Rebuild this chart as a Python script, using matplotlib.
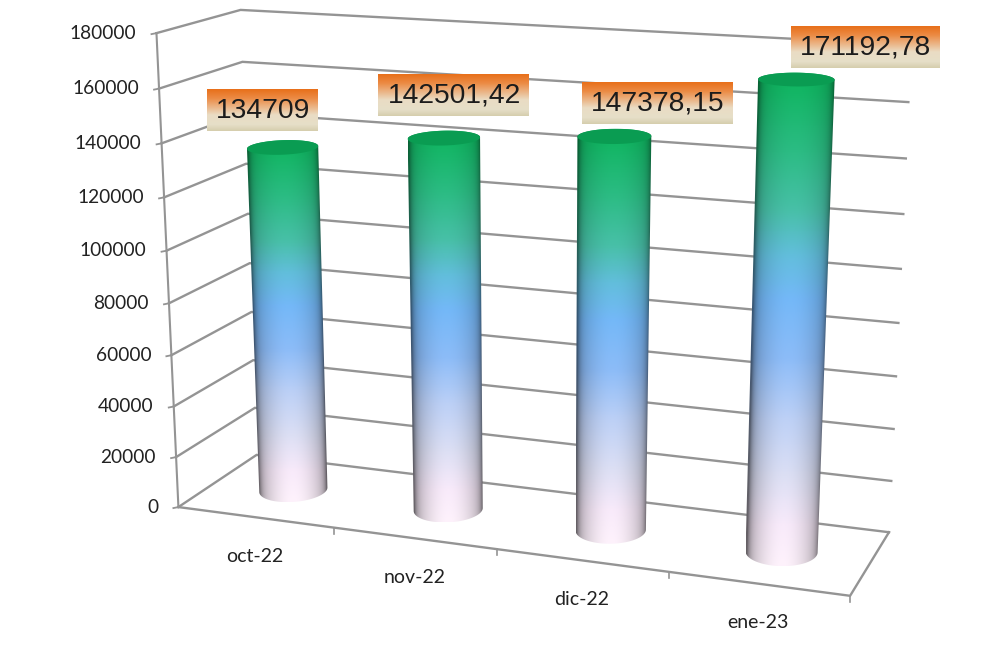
import numpy as np
import matplotlib
matplotlib.use("Agg")
import matplotlib.pyplot as plt
from matplotlib.colors import LinearSegmentedColormap
from matplotlib.patches import Polygon

months = ["oct-22", "nov-22", "dic-22", "ene-23"]
values = [134709, 142501.42, 147378.15, 171192.78]
value_labels = ["134709", "142501,42", "147378,15", "171192,78"]
y_ticks = [0, 20000, 40000, 60000, 80000, 100000, 120000, 140000, 160000, 180000]
y_max = 180000

# layout of the labels, in canvas pixels (centre x, centre y, width)
label_boxes = [(262, 110, 111), (453, 95, 151), (657, 103, 151), (865, 47, 149)]
box_h = 42
radius_x = 0.198
radius_d = 0.22

# corners of the 3d box: (category, depth, height) -> picture
corners_3d = [(0, 0, 0), (4, 0, 0), (4, 1, 0), (0, 1, 0), (0, 0, 1), (0, 1, 1), (4, 1, 1)]
corners_2d = [(178, 507), (850, 596), (889, 532), (257, 455), (157, 33), (240, 10), (911, 45)]


def fit_camera(pts3, pts2):
    rows = []
    rhs = []
    for (x, d, z), (u, v) in zip(pts3, pts2):
        rows.append([x, d, z, 1, 0, 0, 0, 0, -u * x, -u * d, -u * z])
        rows.append([0, 0, 0, 0, x, d, z, 1, -v * x, -v * d, -v * z])
        rhs += [u, v]
    sol = np.linalg.lstsq(np.array(rows, float), np.array(rhs, float), rcond=None)[0]
    return np.append(sol, 1).reshape(3, 4)


cam = fit_camera(corners_3d, corners_2d)


def project(x, d, value):
    x, d, value = np.broadcast_arrays(x, d, value)
    pts = np.stack([x, d, value / y_max, np.ones_like(x, dtype=float)])
    res = cam @ pts.reshape(4, -1)
    return res[0] / res[2], res[1] / res[2]


bar_cmap = LinearSegmentedColormap.from_list("bar", [
    (0.00, "#0cb45c"), (0.16, "#2cbc84"), (0.28, "#48c0a8"), (0.37, "#62bedc"),
    (0.46, "#74b8f8"), (0.58, "#8cbcf8"), (0.70, "#bcd0f6"), (0.82, "#dcdff4"),
    (0.92, "#f8eafa"), (1.00, "#fef2fc"),
])
box_cmap = LinearSegmentedColormap.from_list("box", [
    (0.00, "#e8701a"), (0.22, "#ec8c46"), (0.62, "#eadcc4"), (0.85, "#e6dfc8"), (1.00, "#d6ceae"),
])

fig = plt.figure(figsize=(9.92, 6.65), dpi=100)
ax = fig.add_axes([0, 0, 1, 1])
grid_col = "#949494"

# walls and floor
for v in y_ticks:
    xs, ys = project(np.array([0, 0, 4]), np.array([0, 1, 1]), v)
    ax.plot(xs, ys, color=grid_col, lw=1.7, solid_joinstyle="miter", zorder=1)
    xs, ys = project(0, 0, v)
    ax.plot([xs[0] - 5, xs[0]], [ys[0] + 1, ys[0]], color=grid_col, lw=1.3, zorder=1)
    ax.text(xs[0] - 20, ys[0], str(v), ha="right", va="center",
            family="Lato", fontsize=13.8, color="#222222")

xs, ys = project(np.array([0, 0]), np.array([0, 0]), np.array([0, y_max]))
ax.plot(xs, ys, color=grid_col, lw=1.5, zorder=1)
xs, ys = project(np.array([0, 4, 4]), np.array([0, 0, 1]), 0)
ax.plot(xs, ys, color=grid_col, lw=1.7, zorder=1)

for i in range(1, 5):
    xs, ys = project(i, 0, 0)
    ax.plot([xs[0], xs[0]], [ys[0], ys[0] + 6], color=grid_col, lw=1.2, zorder=1)

for i, m in enumerate(months):
    xs, ys = project(i + 0.5, 0, 0)
    ax.text(xs[0], ys[0] + 39, m, ha="center", va="center",
            family="Lato", fontsize=14, color="#222222")

# cylinders
ang = np.linspace(0, 2 * np.pi, 181)
for i, val in enumerate(values):
    cx = i + 0.5 + radius_x * np.cos(ang)
    cd = 0.5 + radius_d * np.sin(ang)
    tx, ty = project(cx, cd, val)
    bx, by = project(cx, cd, 0)

    def half(px, py, lower):
        left = np.argmin(px)
        right = np.argmax(px)
        order = np.roll(np.arange(len(px)), -left)
        pos = np.where(order == right)[0][0]
        one = order[:pos + 1]
        other = np.append(order[pos:], left)[::-1]
        pick_one = py[one].mean() > py[other].mean()
        chosen = one if pick_one == lower else other
        return px[chosen], py[chosen]

    ux, uy = half(tx, ty, False)
    lx, ly = half(bx, by, True)
    outline = np.column_stack([np.r_[ux, lx[::-1]], np.r_[uy, ly[::-1]]])

    x0, x1 = outline[:, 0].min(), outline[:, 0].max()
    y0, y1 = outline[:, 1].min(), outline[:, 1].max()
    gx, gy = np.meshgrid(np.arange(x0, x1 + 1), np.arange(y0, y1 + 1))
    t = (gy - y0) / (y1 - y0)
    centre = tx.mean() + (bx.mean() - tx.mean()) * t
    hw = (tx.max() - tx.min()) / 2 + ((bx.max() - bx.min()) - (tx.max() - tx.min())) / 2 * t
    u = np.clip((gx - centre) / hw, -1, 1)
    shade = 1 - (0.16 + 0.14 * t) * np.abs(u) ** 2 - 0.30 * np.abs(u) ** 12
    img = bar_cmap(t)[:, :, :3] * shade[:, :, None]
    im = ax.imshow(img, extent=(x0, x1, y1, y0), aspect="auto", interpolation="bilinear", zorder=2)
    patch = Polygon(outline, closed=True, transform=ax.transData, fc="none", ec="none")
    ax.add_patch(patch)
    im.set_clip_path(patch)
    ax.fill(tx, ty, color="#0a9c52", lw=0, zorder=3)

# value labels
for (bx_c, by_c, bw), text in zip(label_boxes, value_labels):
    ax.imshow(np.linspace(0, 1, 64)[:, None], cmap=box_cmap, aspect="auto", zorder=4,
              extent=(bx_c - bw / 2, bx_c + bw / 2, by_c + box_h / 2, by_c - box_h / 2))
    ax.text(bx_c + 1, by_c + 1, text, ha="center", va="center", family="Liberation Sans",
            fontsize=20.3, color="#1c1c1c", zorder=5)

ax.set_xlim(0, 992)
ax.set_ylim(665, 0)
ax.axis("off")
fig.savefig("out.png", dpi=100)
